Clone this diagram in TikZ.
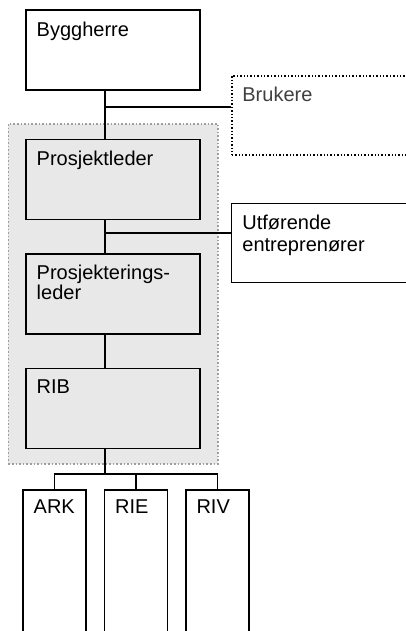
\documentclass[tikz,border=0pt]{standalone}
\usepackage{fontspec}
\setmainfont{Liberation Sans}
\usetikzlibrary{positioning,fit,calc,backgrounds}
\tikzset{
  orgbox/.style ={draw, line width=0.7pt, minimum width=87pt, minimum height=40pt, inner sep=0pt},
  subbox/.style ={draw, line width=0.7pt, minimum width=31.5pt, minimum height=80pt, inner sep=0pt},
  sidebox/.style={draw, line width=0.7pt, minimum width=100pt, minimum height=39.5pt, inner sep=0pt, anchor=north west},
  tag/.style    ={anchor=north west, inner xsep=5.5pt, inner ysep=6pt, align=left, font=\fontsize{10}{10}\selectfont},
  grp/.style    ={draw=gray!75, densely dotted, line width=0.8pt, fill=gray!18, inner xsep=8.5pt, inner ysep=7.5pt},
  conn/.style   ={line width=0.7pt},
}
\begin{document}
\begin{tikzpicture}
  \useasboundingbox (0,0) rectangle (203pt,-315.5pt);
  \clip (0,0) rectangle (203pt,-315.5pt);

  % main chain
  \node[orgbox, label={[tag]north west:Byggherre}] (bygg) at (56.5pt,-25pt) {};
  \node[orgbox, below=24pt of bygg, label={[tag]north west:Prosjektleder}] (pl) {};
  \node[orgbox, below=16.5pt of pl, label={[tag]north west:Prosjekterings-\\leder}] (pjl) {};
  \node[orgbox, below=16.5pt of pjl, label={[tag]north west:RIB}] (rib) {};

  \begin{scope}[on background layer]
    \node[grp, fit=(pl)(pjl)(rib)] (team) {};
  \end{scope}

  % side boxes
  \node[sidebox, densely dotted, line width=0.8pt, label={[tag, text=black!75]north west:Brukere}] (bru) at (115.5pt,-37.5pt) {};
  \node[sidebox, label={[tag]north west:Utførende\\[1pt]entreprenører}] (utf) at (115.5pt,-101.5pt) {};

  % consultants
  \node[subbox, label={[tag, inner ysep=5pt]north west:ARK}] (ark) at (27.25pt,-285pt) {};
  \node[subbox, right=8.5pt of ark, label={[tag, inner ysep=5pt]north west:RIE}] (rie) {};
  \node[subbox, right=8.5pt of rie, label={[tag, inner ysep=5pt]north west:RIV}] (riv) {};

  \coordinate (spine) at (52.5pt,0);
  \coordinate (jbru) at (52.5pt,-53.5pt);
  \coordinate (jutf) at (52.5pt,-116.5pt);
  \coordinate (bus)  at (52.5pt,-237pt);

  \draw[conn] (bygg.south -| spine) -- (pl.north -| spine);
  \draw[conn] (jbru) -- (jbru -| bru.west);
  \draw[conn] (pl.south -| spine) -- (pjl.north -| spine);
  \draw[conn] (jutf) -- (jutf -| utf.west);
  \draw[conn] (pjl.south -| spine) -- (rib.north -| spine);
  \draw[conn] (rib.south -| spine) -- (bus);
  \draw[conn] (ark.north) -- (ark.north |- bus) -- (riv.north |- bus) -- (riv.north);
  \draw[conn] (rie.north) -- (rie.north |- bus);
\end{tikzpicture}
\end{document}
